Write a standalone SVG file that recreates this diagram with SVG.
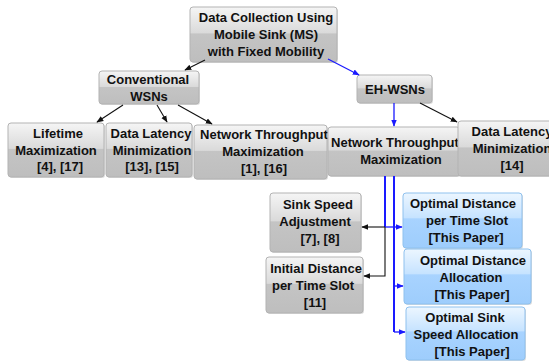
<svg xmlns="http://www.w3.org/2000/svg" width="549" height="361" viewBox="0 0 549 361">
<defs>
<linearGradient id="gGray" x1="0" y1="0" x2="0" y2="1">
<stop offset="0" stop-color="#f5f5f5"/>
<stop offset="0.47" stop-color="#dadada"/>
<stop offset="0.49" stop-color="#c4c4c4"/>
<stop offset="1" stop-color="#bebebe"/>
</linearGradient>
<linearGradient id="gBlue" x1="0" y1="0" x2="0" y2="1">
<stop offset="0" stop-color="#ecf6ff"/>
<stop offset="0.45" stop-color="#c6e3ff"/>
<stop offset="0.47" stop-color="#a8d3ff"/>
<stop offset="1" stop-color="#9ecdfc"/>
</linearGradient>
<marker id="aK" viewBox="0 0 10 10" refX="9" refY="5" markerWidth="7" markerHeight="7" markerUnits="userSpaceOnUse" orient="auto">
<path d="M0,1 L10,5 L0,9 z" fill="#111"/>
</marker>
<marker id="aB" viewBox="0 0 10 10" refX="9" refY="5" markerWidth="7" markerHeight="7" markerUnits="userSpaceOnUse" orient="auto">
<path d="M0,1 L10,5 L0,9 z" fill="#1a1aff"/>
</marker>
</defs>
<style>
.g{fill:url(#gGray);stroke:#b3b3b3;stroke-width:1}
.b{fill:url(#gBlue);stroke:#8fc1ee;stroke-width:1}
.sh{fill:#9a9a9a;opacity:0.35}
text{font-family:"Liberation Sans",Arial,sans-serif;font-weight:bold;font-size:13px;fill:#111;text-anchor:middle}
.k{fill:none;stroke:#111;stroke-width:1.1}
.bl{fill:none;stroke:#1a1aff;stroke-width:1.3}
.bv{fill:none;stroke:#1a1aff;stroke-width:2}
</style>

<g id="n-top">
<rect class="sh" x="191" y="8" width="147" height="55" rx="3"/>
<rect class="g" x="190" y="7" width="147" height="55" rx="3"/>
<text x="266" y="22">Data Collection Using</text>
<text x="266" y="39">Mobile Sink (MS)</text>
<text x="266" y="56">with Fixed Mobility</text>
</g>

<g id="n-conv">
<rect class="sh" x="100" y="72" width="100" height="33" rx="3"/>
<rect class="g" x="99" y="71" width="100" height="33" rx="3"/>
<text x="148" y="84">Conventional</text>
<text x="149" y="101">WSNs</text>
</g>

<g id="n-life">
<rect class="sh" x="9" y="124" width="96" height="54" rx="3"/>
<rect class="g" x="8" y="123" width="96" height="54" rx="3"/>
<text x="58" y="138">Lifetime</text>
<text x="56" y="155">Maximization</text>
<text x="60" y="171">[4], [17]</text>
</g>

<g id="n-dlm1">
<rect class="sh" x="107" y="124" width="86" height="54" rx="3"/>
<rect class="g" x="106" y="123" width="86" height="54" rx="3"/>
<text x="151" y="138">Data Latency</text>
<text x="152" y="155">Minimization</text>
<text x="152" y="171">[13], [15]</text>
</g>

<g id="n-nt1">
<rect class="sh" x="195" y="126" width="133" height="54" rx="3"/>
<rect class="g" x="194" y="125" width="133" height="54" rx="3"/>
<text x="264" y="139">Network Throughput</text>
<text x="263" y="156">Maximization</text>
<text x="264" y="173">[1], [16]</text>
</g>

<g id="n-eh">
<rect class="sh" x="358" y="76" width="75" height="28" rx="3"/>
<rect class="g" x="357" y="75" width="75" height="28" rx="3"/>
<text x="395" y="94">EH-WSNs</text>
</g>

<g id="n-nt2">
<rect class="sh" x="329" y="128" width="132" height="49" rx="3"/>
<rect class="g" x="328" y="127" width="132" height="49" rx="3"/>
<text x="395" y="147">Network Throughput</text>
<text x="401" y="164">Maximization</text>
</g>

<g id="n-dlm2">
<rect class="sh" x="459" y="122" width="100" height="55" rx="3"/>
<rect class="g" x="458" y="121" width="100" height="55" rx="3"/>
<text x="512" y="136">Data Latency</text>
<text x="512" y="153">Minimization</text>
<text x="512" y="170">[14]</text>
</g>

<g id="n-ssa">
<rect class="sh" x="271" y="194" width="91" height="59" rx="3"/>
<rect class="g" x="270" y="193" width="91" height="59" rx="3"/>
<text x="318" y="209">Sink Speed</text>
<text x="315" y="226">Adjustment</text>
<text x="320" y="243">[7], [8]</text>
</g>

<g id="n-idt">
<rect class="sh" x="267" y="258" width="97" height="56" rx="3"/>
<rect class="g" x="266" y="257" width="97" height="56" rx="3"/>
<text x="316" y="273">Initial Distance</text>
<text x="313" y="290">per Time Slot</text>
<text x="315" y="307">[11]</text>
</g>

<g id="n-odt">
<rect class="sh" x="404" y="194" width="119" height="55" rx="3"/>
<rect class="b" x="403" y="193" width="119" height="55" rx="3"/>
<text x="463" y="208">Optimal Distance</text>
<text x="467" y="225">per Time Slot</text>
<text x="466" y="242">[This Paper]</text>
</g>

<g id="n-oda">
<rect class="sh" x="405" y="250" width="127" height="55" rx="3"/>
<rect class="b" x="404" y="249" width="127" height="55" rx="3"/>
<text x="473" y="265">Optimal Distance</text>
<text x="471" y="282">Allocation</text>
<text x="472" y="299">[This Paper]</text>
</g>

<g id="n-osa">
<rect class="sh" x="407" y="308" width="119" height="53" rx="3"/>
<rect class="b" x="406" y="307" width="119" height="53" rx="3"/>
<text x="465" y="322">Optimal Sink</text>
<text x="466" y="339">Speed Allocation</text>
<text x="472" y="356">[This Paper]</text>
</g>

<g id="connectors">
<path class="k" d="M205,60 L185,70" marker-end="url(#aK)"/>
<path class="bl" d="M328,59 L359,75" marker-end="url(#aB)"/>
<path class="k" d="M123,105 L97,122" marker-end="url(#aK)"/>
<path class="k" d="M157,105 L167,122" marker-end="url(#aK)"/>
<path class="k" d="M178,105 L212,124" marker-end="url(#aK)"/>
<path class="bl" d="M394,103 L394,126" marker-end="url(#aB)"/>
<path class="k" d="M420,103 L457,122" marker-end="url(#aK)"/>
<path class="bv" d="M385,176 V227"/>
<path class="bl" d="M385,227 H402" marker-end="url(#aB)"/>
<path class="k" d="M385,227 H362" marker-end="url(#aK)"/>
<path class="k" d="M385,227 V276 H364" marker-end="url(#aK)"/>
<path class="bv" d="M394,176 V332"/>
<path class="bl" d="M394,332 H405" marker-end="url(#aB)"/>
<path class="bl" d="M394,286 H403" marker-end="url(#aB)"/>
</g>
</svg>
